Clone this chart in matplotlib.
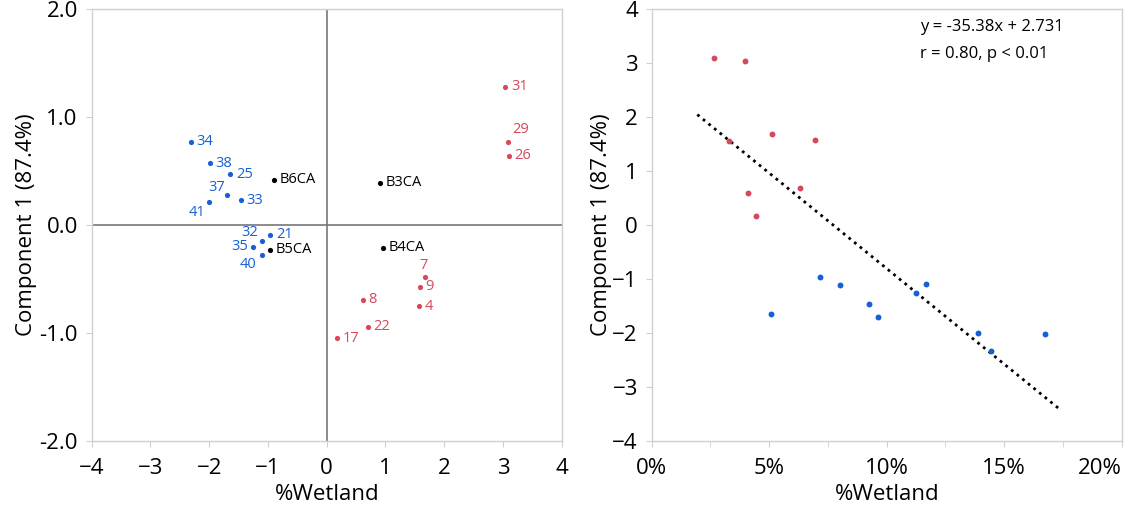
import matplotlib
matplotlib.use("Agg")
import matplotlib.pyplot as plt
from matplotlib.ticker import FuncFormatter, MultipleLocator

plt.rcParams['font.family'] = ['Open Sans', 'DejaVu Sans']

# ---- Left panel: sample scores ----
blue_names = ["34", "38", "25", "37", "33", "41", "21", "32", "35", "40"]
blue_x = [-2.31, -1.99, -1.64, -1.69, -1.46, -2.00, -0.96, -1.10, -1.25, -1.10]
blue_y = [0.77, 0.57, 0.47, 0.28, 0.23, 0.21, -0.09, -0.15, -0.20, -0.28]

red_names = ["31", "29", "26", "7", "9", "4", "8", "22", "17"]
red_x = [3.04, 3.09, 3.10, 1.68, 1.58, 1.57, 0.61, 0.70, 0.17]
red_y = [1.28, 0.77, 0.64, -0.48, -0.57, -0.75, -0.69, -0.94, -1.05]

ref_names = ["B6CA", "B5CA", "B3CA", "B4CA"]
ref_x = [-0.89, -0.97, 0.91, 0.96]
ref_y = [0.42, -0.23, 0.39, -0.21]

# ---- Right panel: component 1 vs wetland share ----
wet_red = [0.0264, 0.0396, 0.0330, 0.0513, 0.0695, 0.0632, 0.0411, 0.0444]
comp_red = [3.09, 3.03, 1.56, 1.68, 1.57, 0.69, 0.60, 0.17]
wet_blue = [0.0716, 0.0800, 0.0506, 0.0926, 0.0963, 0.1125, 0.1167, 0.1389, 0.1444, 0.1672]
comp_blue = [-0.97, -1.12, -1.65, -1.47, -1.70, -1.25, -1.10, -2.00, -2.33, -2.02]

slope = -35.38
intercept = 2.731
fit_span = [0.0194, 0.174]  # x extent of the fitted line

pct_ticks = [0.0, 0.05, 0.10, 0.15, 0.20]

BLUE = "#1560D6"
RED = "#D8475B"
FRAME = "#D0D0D0"
AXIS = "#777777"

W, H = 1136, 515
fig = plt.figure(figsize=(W / 100, H / 100), dpi=100)

ax1 = fig.add_axes([91.7 / W, (H - 441) / H, 470 / W, 432 / H])
ax2 = fig.add_axes([651.7 / W, (H - 441) / H, 470 / W, 432 / H])

for ax in (ax1, ax2):
    for s in ax.spines.values():
        s.set_color(FRAME)
        s.set_linewidth(1.0)
    ax.tick_params(axis='both', which='both', direction='out', length=4,
                   color=FRAME, labelsize=16, pad=6)
    ax.tick_params(axis='x', pad=8)

# Left panel
ax1.set_xlim(-4, 4)
ax1.set_ylim(-2, 2)
ax1.set_xticks(range(-4, 5))
ax1.set_yticks([-2, -1, 0, 1, 2])
ax1.yaxis.set_major_formatter(FuncFormatter(lambda v, p: f"{v:.1f}"))
ax1.axhline(0, color=AXIS, lw=1.2, zorder=1)
ax1.axvline(0, color=AXIS, lw=1.2, zorder=1)

ax1.scatter(blue_x, blue_y, s=14, color=BLUE, zorder=3, linewidths=0)
ax1.scatter(red_x, red_y, s=14, color=RED, zorder=3, linewidths=0)
ax1.scatter(ref_x, ref_y, s=14, color="black", zorder=3, linewidths=0)

# label placement (offset in points, horizontal alignment)
offsets = {
    "41": (-3, -7, "right"),
    "37": (-2, 5, "right"),
    "32": (-3, 6, "right"),
    "35": (-4, 0, "right"),
    "40": (-4, -7, "right"),
    "29": (3, 9, "left"),
    "7": (-1, 8, "center"),
}

def label(ax, names, xs, ys, color):
    for n, x, y in zip(names, xs, ys):
        dx, dy, ha = offsets.get(n, (4, 0, "left"))
        ax.annotate(n, (x, y), xytext=(dx, dy), textcoords="offset points",
                    ha=ha, va="center", fontsize=10.5, color=color, zorder=4)

label(ax1, blue_names, blue_x, blue_y, BLUE)
label(ax1, red_names, red_x, red_y, RED)
label(ax1, ref_names, ref_x, ref_y, "black")

ax1.set_xlabel("%Wetland", fontsize=16, labelpad=4)
ax1.set_ylabel("Component 1 (87.4%)", fontsize=16, labelpad=2)

# Right panel
ax2.set_xlim(0, 0.20)
ax2.set_ylim(-4, 4)
ax2.set_xticks(pct_ticks)
ax2.set_xticklabels([f"{v * 100:.0f}%" for v in pct_ticks])
ax2.xaxis.set_minor_locator(MultipleLocator(0.025))
ax2.get_xticklabels()[-1].set_horizontalalignment("right")
ax2.set_yticks(range(-4, 5))

ax2.scatter(wet_red, comp_red, s=18, color=RED, zorder=3, linewidths=0)
ax2.scatter(wet_blue, comp_blue, s=18, color=BLUE, zorder=3, linewidths=0)

fx = fit_span
fy = [slope * v + intercept for v in fx]
ax2.plot(fx, fy, color="black", lw=2, linestyle=(0, (1, 1.6)), zorder=2)

ax2.text(0.570, 0.958, f"y = {slope}x + {intercept}", transform=ax2.transAxes,
         fontsize=12, ha="left", va="center")
ax2.text(0.570, 0.896, "r = 0.80, p < 0.01", transform=ax2.transAxes,
         fontsize=12, ha="left", va="center")

ax2.set_xlabel("%Wetland", fontsize=16, labelpad=4)
ax2.set_ylabel("Component 1 (87.4%)", fontsize=16, labelpad=0)

fig.savefig("out.png", dpi=100)
